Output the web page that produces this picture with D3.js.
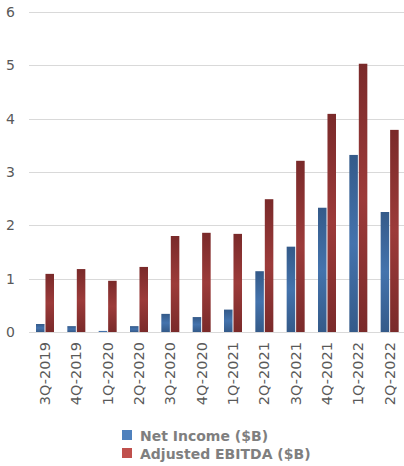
<!DOCTYPE html>
<html>
<head>
<meta charset="utf-8">
<script src="https://cdn.jsdelivr.net/npm/d3@7"></script>
<style>
  body { margin: 0; background: #fff; }
  text { font-family: "DejaVu Sans", sans-serif; }
</style>
</head>
<body>
<div id="chart"></div>
<script>
const quarters = ["3Q-2019", "4Q-2019", "1Q-2020", "2Q-2020", "3Q-2020", "4Q-2020",
  "1Q-2021", "2Q-2021", "3Q-2021", "4Q-2021", "1Q-2022", "2Q-2022"];
const netIncome = [0.15, 0.11, 0.02, 0.11, 0.34, 0.28, 0.42, 1.14, 1.6, 2.33, 3.32, 2.25];
const ebitda = [1.09, 1.18, 0.96, 1.22, 1.8, 1.86, 1.84, 2.49, 3.21, 4.09, 5.03, 3.79];
const yTicks = [0, 1, 2, 3, 4, 5, 6];
const seriesNames = ["Net Income ($B)", "Adjusted EBITDA ($B)"];

const w = 404, h = 466;

const svg = d3.select("#chart").append("svg")
  .attr("width", w)
  .attr("height", h);

// gradients like the old office bars
const defs = svg.append("defs");
const grads = [
  { id: "gradBlue", dark: "#345a89", light: "#4473ad" },
  { id: "gradRed", dark: "#7a2a2a", light: "#9c3b3a" },
];
grads.forEach((g) => {
  const lg = defs.append("linearGradient")
    .attr("id", g.id)
    .attr("x1", "0%").attr("x2", "0%")
    .attr("y1", "0%").attr("y2", "100%");
  lg.append("stop").attr("offset", "0%").style("stop-color", g.dark);
  lg.append("stop").attr("offset", "50%").style("stop-color", g.light);
  lg.append("stop").attr("offset", "100%").style("stop-color", g.dark);
});

const x = d3.scaleBand()
  .domain(quarters)
  .range([29, 405]);

const y = d3.scaleLinear()
  .domain([0, 6])
  .range([332, 12]);

const sub = d3.scaleBand()
  .domain([0, 1])
  .range([7, 25])
  .paddingInner(0.1);

// grid lines
svg.append("g")
  .selectAll("line")
  .data(yTicks)
  .enter()
  .append("line")
  .attr("x1", 29)
  .attr("x2", w)
  .attr("y1", (d) => Math.round(y(d)) + 0.5)
  .attr("y2", (d) => Math.round(y(d)) + 0.5)
  .attr("stroke", "#d9d9d9")
  .attr("stroke-width", 1.2);

// y labels
svg.append("g")
  .selectAll("text")
  .data(yTicks)
  .enter()
  .append("text")
  .attr("x", 15)
  .attr("y", (d) => y(d) + 5)
  .attr("text-anchor", "end")
  .style("font-size", "14px")
  .style("fill", "#595959")
  .text((d) => d);

// bars
const groups = svg.append("g")
  .selectAll("g")
  .data(quarters)
  .enter()
  .append("g")
  .attr("transform", (d) => `translate(${x(d)},0)`);

groups.append("rect")
  .attr("x", sub(0))
  .attr("width", sub.bandwidth())
  .attr("y", (d, i) => y(netIncome[i]))
  .attr("height", (d, i) => y(0) - y(netIncome[i]))
  .attr("fill", "url(#gradBlue)");

groups.append("rect")
  .attr("x", sub(1))
  .attr("width", sub.bandwidth())
  .attr("y", (d, i) => y(ebitda[i]))
  .attr("height", (d, i) => y(0) - y(ebitda[i]))
  .attr("fill", "url(#gradRed)");

// x labels, rotated
svg.append("g")
  .selectAll("text")
  .data(quarters)
  .enter()
  .append("text")
  .attr("transform", (d) => `translate(${x(d) + 16 + 5},342) rotate(-90)`)
  .attr("text-anchor", "end")
  .style("font-size", "14.5px")
  .style("fill", "#595959")
  .text((d) => d);

// legend
const legendColors = ["#4f81bd", "#c0504d"];
const legend = svg.append("g")
  .selectAll("g")
  .data(seriesNames)
  .enter()
  .append("g")
  .attr("transform", (d, i) => `translate(122,${430 + i * 18})`);

legend.append("rect")
  .attr("width", 10)
  .attr("height", 10)
  .attr("fill", (d, i) => legendColors[i]);

legend.append("text")
  .attr("x", 18)
  .attr("y", 10.5)
  .style("font-size", "14px")
  .style("font-weight", 700)
  .style("fill", "#7f7f7f")
  .text((d) => d);
</script>
</body>
</html>
